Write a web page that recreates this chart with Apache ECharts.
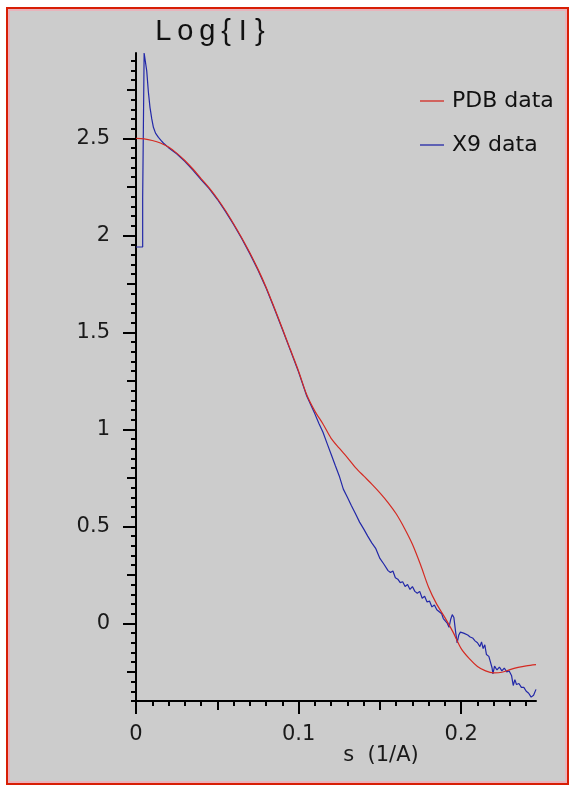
<!DOCTYPE html>
<html><head><meta charset="utf-8">
<script src="https://cdn.jsdelivr.net/npm/echarts@6/dist/echarts.min.js"></script>
<style>
html,body{margin:0;padding:0;background:#fff;width:571px;height:787px;overflow:hidden}
#frame{position:absolute;left:6px;top:7px;width:559px;height:774px;border:2px solid #d81e05;box-shadow:inset 0 0 0 2px #e9b3bb;background:#cccccc}
#chart{position:absolute;left:0;top:0;width:571px;height:787px}
</style></head><body><div id="frame"></div><div id="chart"></div>
<script>
// ---- data (s in 1/A, Log{I}) ----
const pdbS = [0, 0.005, 0.01, 0.015, 0.02, 0.025, 0.03, 0.035, 0.04, 0.045, 0.05, 0.055, 0.06, 0.065, 0.07, 0.075, 0.08, 0.085, 0.09, 0.095, 0.1, 0.105, 0.11, 0.115, 0.12, 0.125, 0.13, 0.135, 0.14, 0.145, 0.15, 0.155, 0.16, 0.165, 0.17, 0.175, 0.18, 0.185, 0.19, 0.195, 0.2, 0.205, 0.21, 0.215, 0.22, 0.225, 0.23, 0.235, 0.24, 0.246];
const pdbV = [2.500, 2.497, 2.489, 2.476, 2.455, 2.424, 2.386, 2.342, 2.293, 2.245, 2.190, 2.128, 2.060, 1.988, 1.910, 1.826, 1.733, 1.628, 1.520, 1.410, 1.300, 1.178, 1.094, 1.028, 0.954, 0.903, 0.855, 0.803, 0.760, 0.718, 0.673, 0.623, 0.565, 0.492, 0.408, 0.302, 0.185, 0.098, 0.030, -0.045, -0.130, -0.182, -0.222, -0.245, -0.255, -0.252, -0.238, -0.227, -0.219, -0.213];

const x9S = [0, 0.0041, 0.0041, 0.0049, 0.0050, 0.0066, 0.0076, 0.0086, 0.0097, 0.0107, 0.012, 0.0138, 0.0155, 0.0168, 0.02, 0.025, 0.03, 0.035, 0.04, 0.045, 0.05, 0.055, 0.06, 0.065, 0.07, 0.075, 0.08, 0.085, 0.09, 0.095, 0.1, 0.105, 0.11, 0.1125, 0.115, 0.1175, 0.12, 0.1225, 0.125, 0.1275, 0.13, 0.1325, 0.135, 0.1375, 0.14, 0.1425, 0.145, 0.1475, 0.15, 0.1525, 0.155, 0.1565, 0.158, 0.1595, 0.161, 0.1625, 0.164, 0.1655, 0.167, 0.1685, 0.17, 0.1715, 0.173, 0.1745, 0.176, 0.1775, 0.179, 0.1805, 0.182, 0.1835, 0.185, 0.1865, 0.188, 0.189, 0.19, 0.1915, 0.1925, 0.1935, 0.1945, 0.1955, 0.1965, 0.1975, 0.1985, 0.1995, 0.2005, 0.2015, 0.2025, 0.204, 0.2055, 0.207, 0.2085, 0.21, 0.2115, 0.2125, 0.2135, 0.2145, 0.2155, 0.217, 0.218, 0.219, 0.2195, 0.2205, 0.222, 0.2235, 0.225, 0.2265, 0.228, 0.2295, 0.231, 0.232, 0.233, 0.234, 0.2355, 0.237, 0.2385, 0.24, 0.2415, 0.243, 0.2445, 0.2455, 0.246];
const x9V = [1.94, 1.94, 2.19, 2.19, 2.94, 2.848, 2.74, 2.66, 2.60, 2.557, 2.527, 2.505, 2.488, 2.476, 2.452, 2.421, 2.382, 2.336, 2.287, 2.241, 2.186, 2.124, 2.056, 1.984, 1.906, 1.822, 1.729, 1.624, 1.516, 1.406, 1.295, 1.172, 1.080, 1.030, 0.985, 0.928, 0.872, 0.815, 0.760, 0.692, 0.650, 0.606, 0.565, 0.522, 0.487, 0.450, 0.415, 0.385, 0.335, 0.305, 0.272, 0.262, 0.270, 0.235, 0.228, 0.210, 0.215, 0.190, 0.200, 0.175, 0.190, 0.165, 0.155, 0.165, 0.130, 0.140, 0.110, 0.115, 0.085, 0.095, 0.070, 0.060, 0.050, 0.025, 0.035, 0.000, -0.020, 0.020, 0.045, 0.030, -0.040, -0.100, -0.060, -0.045, -0.035, -0.050, -0.045, -0.060, -0.070, -0.075, -0.090, -0.100, -0.120, -0.095, -0.130, -0.110, -0.160, -0.170, -0.200, -0.230, -0.260, -0.220, -0.240, -0.225, -0.245, -0.230, -0.250, -0.245, -0.270, -0.320, -0.290, -0.315, -0.310, -0.330, -0.330, -0.350, -0.360, -0.380, -0.370, -0.375, -0.340];

// ---- axes / ticks ----
const xMajorTicks = [0, 0.1, 0.2];
const xMediumTicks = [0.05, 0.15];
const xMinorTicks = [0.01, 0.02, 0.03, 0.04, 0.06, 0.07, 0.08, 0.09, 0.11, 0.12, 0.13, 0.14, 0.16, 0.17, 0.18, 0.19, 0.21, 0.22, 0.23, 0.24];
const yMajorTicks = [0, 0.5, 1, 1.5, 2, 2.5];
const yMediumTicks = [-0.25, 0.25, 0.75, 1.25, 1.75, 2.25, 2.75];
const yMinorTicks = [-0.4, -0.35, -0.3, -0.2, -0.15, -0.1, -0.05, 0.05, 0.1, 0.15, 0.2, 0.3, 0.35, 0.4, 0.45, 0.55, 0.6, 0.65, 0.7, 0.8, 0.85, 0.9, 0.95, 1.05, 1.1, 1.15, 1.2, 1.3, 1.35, 1.4, 1.45, 1.55, 1.6, 1.65, 1.7, 1.8, 1.85, 1.9, 1.95, 2.05, 2.1, 2.15, 2.2, 2.3, 2.35, 2.4, 2.45, 2.55, 2.6, 2.65, 2.7, 2.8, 2.85, 2.9];
const xMin = 0, xMax = 0.246, yMin = -0.4, yMax = 2.94;
const seriesNames = ['PDB data', 'X9 data'];
const titleText = 'L\u2009o\u2009g\u2009{ I }';
const xName = 's  (1/A)';

const chart = echarts.init(document.getElementById('chart'), null, {renderer: 'canvas'});
const lbl = {fontFamily: 'DejaVu Sans', fontSize: 21, color: '#1a1a1a'};
const tickStyle = {color: '#000', width: 2};
const lineIcon = 'path://M0,0H24V1.3H0Z';

function xAx(ticks, len, main) {
  return {type: 'value', position: 'bottom', min: xMin, max: xMax,
    axisLine: {show: main, onZero: false, lineStyle: {color: '#000', width: 2}},
    axisTick: {show: true, length: len, customValues: ticks, lineStyle: tickStyle},
    axisLabel: main ? Object.assign({show: true, customValues: ticks, margin: 23}, lbl) : {show: false},
    splitLine: {show: false}, minorTick: {show: false}};
}
function yAx(ticks, len, main) {
  return {type: 'value', position: 'left', min: yMin, max: yMax,
    axisLine: {show: main, onZero: false, lineStyle: {color: '#000', width: 2}},
    axisTick: {show: true, length: len, customValues: ticks, lineStyle: tickStyle},
    axisLabel: main ? Object.assign({show: true, customValues: ticks, margin: 26}, lbl) : {show: false},
    splitLine: {show: false}, minorTick: {show: false}};
}

chart.setOption({
  backgroundColor: 'transparent',
  animation: false,
  grid: {left: 136, right: 35, top: 53, bottom: 86, containLabel: false, outerBoundsMode: 'none'},
  xAxis: [xAx(xMajorTicks, 13, true), xAx(xMediumTicks, 9, false), xAx(xMinorTicks, 5, false)],
  yAxis: [yAx(yMajorTicks, 13, true), yAx(yMediumTicks, 9, false), yAx(yMinorTicks, 5, false)],
  legend: {
    orient: 'vertical', left: 420, top: 90, padding: 0, itemWidth: 24, itemHeight: 14, itemGap: 22,
    symbolKeepAspect: true,
    data: seriesNames.map(n => ({name: n, icon: lineIcon})),
    textStyle: {fontFamily: 'DejaVu Sans', fontSize: 22, color: '#111', lineHeight: 22, padding: [0, 0, 0, 3]}
  },
  graphic: [
    {type: 'text', x: 210, y: 32, style: {text: titleText, font: '29px "Liberation Sans"', fill: '#111', align: 'center', verticalAlign: 'middle'}},
    {type: 'text', x: 381, y: 756, style: {text: xName, font: '21px "DejaVu Sans"', fill: '#1a1a1a', align: 'center', verticalAlign: 'middle'}}
  ],
  series: [
    {name: seriesNames[0], type: 'line', xAxisIndex: 0, yAxisIndex: 0, symbol: 'none', showSymbol: false, smooth: 0.3,
     lineStyle: {color: '#d42a22', width: 1.2}, itemStyle: {color: '#d42a22'},
     data: pdbS.map((s, i) => [s, pdbV[i]]), z: 3},
    {name: seriesNames[1], type: 'line', xAxisIndex: 0, yAxisIndex: 0, symbol: 'none', showSymbol: false,
     lineStyle: {color: '#2228a8', width: 1.2}, itemStyle: {color: '#2228a8'},
     data: x9S.map((s, i) => [s, x9V[i]]), z: 2}
  ]
});
</script></body></html>
